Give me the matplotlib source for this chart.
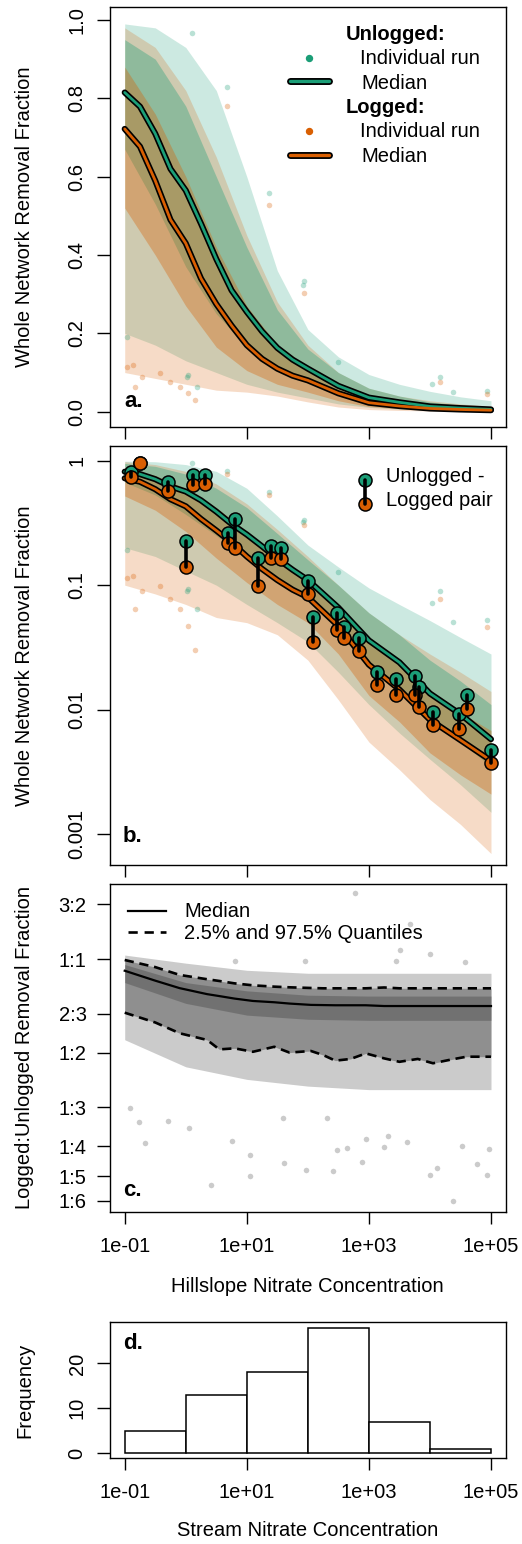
import matplotlib
matplotlib.use('Agg')
import matplotlib.pyplot as plt
import numpy as np
from matplotlib.ticker import NullLocator

plt.rcParams['font.family'] = ['Liberation Sans', 'DejaVu Sans']
plt.rcParams['font.size'] = 14.5

GREEN = '#1B9E77'
ORANGE = '#D95F02'
GREY = '#555555'

# median removal fraction vs hillslope nitrate (x given as log10 of concentration)
med_log_conc = [-1, -0.75, -0.5, -0.25, 0, 0.25, 0.5, 0.75, 1, 1.25, 1.5, 1.75, 2, 2.5, 3, 3.5, 4, 4.5, 5]
unlogged_median = [0.815, 0.779, 0.71, 0.62, 0.565, 0.48, 0.39, 0.31, 0.255, 0.205, 0.163, 0.133,
                   0.11, 0.066, 0.036, 0.024, 0.0135, 0.0092, 0.0058]
logged_median = [0.722, 0.677, 0.59, 0.49, 0.43, 0.34, 0.275, 0.22, 0.17, 0.135, 0.11, 0.092,
                 0.08, 0.047, 0.023, 0.0145, 0.0083, 0.0057, 0.0039]

# spread of the individual runs (outer envelope and inner half)
band_log_conc = [-1, -0.5, 0, 0.5, 1, 1.5, 2, 2.5, 3, 3.5, 4, 4.5, 5]
unlogged_hi = [0.99, 0.98, 0.93, 0.82, 0.6, 0.36, 0.21, 0.14, 0.095, 0.07, 0.052, 0.038, 0.028]
unlogged_q75 = [0.95, 0.9, 0.78, 0.6, 0.42, 0.26, 0.16, 0.1, 0.06, 0.04, 0.025, 0.017, 0.011]
unlogged_q25 = [0.67, 0.53, 0.37, 0.25, 0.165, 0.11, 0.075, 0.045, 0.024, 0.015, 0.0085, 0.0055, 0.0035]
unlogged_lo = [0.2, 0.17, 0.13, 0.1, 0.07, 0.05, 0.035, 0.02, 0.011, 0.0065, 0.004, 0.0025, 0.0015]
logged_hi = [0.98, 0.93, 0.82, 0.65, 0.45, 0.28, 0.17, 0.1, 0.06, 0.04, 0.028, 0.02, 0.014]
logged_q75 = [0.88, 0.76, 0.6, 0.42, 0.27, 0.17, 0.115, 0.07, 0.036, 0.023, 0.014, 0.0095, 0.0068]
logged_q25 = [0.52, 0.4, 0.27, 0.165, 0.105, 0.07, 0.05, 0.028, 0.013, 0.008, 0.0045, 0.003, 0.0021]
logged_lo = [0.1, 0.085, 0.07, 0.055, 0.05, 0.04, 0.025, 0.012, 0.0055, 0.0033, 0.0019, 0.0012, 0.0007]

# a few stray runs
unlogged_out_log_conc = [0.1, 0.67, 1.37, 1.94, 2.5, 4.16, 4.93, -0.97, 0.02, 0.18, 0.04,
                         1.92, 4.03, 4.38]
unlogged_out = [0.966, 0.83, 0.559, 0.334, 0.128, 0.089, 0.053, 0.19, 0.089, 0.064, 0.094,
                0.324, 0.0716, 0.051]
logged_out_log_conc = [0.67, 1.37, 1.94, -0.97, -0.86, -0.26, 0.15, 0.04, 4.16, -0.83, -0.72,
                       -0.42, -0.09, 4.93]
logged_out = [0.78, 0.527, 0.302, 0.115, 0.119, 0.077, 0.03, 0.047, 0.077, 0.064, 0.089,
              0.098, 0.064, 0.046]

# unlogged / logged pairs (panel b)
pair_log_conc = [-0.90, -0.75, -0.29, 0.004, 0.12, 0.315, 0.70, 0.807, 1.19, 1.40, 1.56, 2.0,
                 2.08, 2.47, 2.6, 2.83, 3.13, 3.44, 3.755, 3.82, 4.05, 4.48, 4.61, 5.0]
pair_unlogged = [0.816, 0.955, 0.678, 0.228, 0.768, 0.768, 0.264, 0.338, 0.164, 0.206, 0.20, 0.109,
                 0.0558, 0.060, 0.0465, 0.0374, 0.0202, 0.0175, 0.0187, 0.0153, 0.00964, 0.00924,
                 0.0131, 0.00475]
pair_logged = [0.736, 0.963, 0.574, 0.141, 0.638, 0.65, 0.217, 0.198, 0.099, 0.164, 0.162, 0.085,
               0.0352, 0.0437, 0.0374, 0.0298, 0.0158, 0.0131, 0.0131, 0.0106, 0.00753, 0.00696,
               0.0101, 0.00375]

# panel c: logged:unlogged ratio
c_log_conc = [-1, -0.5, -0.1, 0.35, 0.55, 0.8, 1.1, 1.45, 1.7, 2.05, 2.25, 2.45, 2.7, 2.95,
              3.25, 3.5, 3.8, 4.05, 4.35, 4.6, 5.0]
c_median = [0.917, 0.852, 0.806, 0.771, 0.760, 0.746, 0.733, 0.726, 0.719, 0.712, 0.711, 0.710,
            0.710, 0.710, 0.706, 0.706, 0.706, 0.706, 0.706, 0.706, 0.706]
c_q975 = [0.993, 0.942, 0.889, 0.861, 0.850, 0.835, 0.823, 0.815, 0.811, 0.807, 0.805, 0.805,
          0.805, 0.805, 0.81, 0.805, 0.805, 0.805, 0.805, 0.805, 0.805]
c_q025 = [0.672, 0.625, 0.577, 0.549, 0.512, 0.516, 0.503, 0.522, 0.500, 0.506, 0.491, 0.471,
          0.477, 0.497, 0.479, 0.467, 0.477, 0.462, 0.475, 0.485, 0.485]
c_band_log_conc = [-1, 0, 1, 2, 3, 4, 5]
c_cloud_hi = [1.03, 0.97, 0.92, 0.9, 0.9, 0.9, 0.9]
c_q75 = [0.96, 0.84, 0.79, 0.765, 0.76, 0.76, 0.76]
c_q25 = [0.84, 0.72, 0.66, 0.64, 0.635, 0.635, 0.635]
c_cloud_lo = [0.55, 0.45, 0.41, 0.39, 0.38, 0.38, 0.38]
c_out_log_conc = [-0.91, -0.76, -0.67, 0.41, -0.29, 0.05, 0.75, 1.06, 1.05, 1.61, 1.97, 2.41,
                  2.88, 2.96, 2.48, 4.0, 4.12, 4.37, 4.93, 4.77, 4.97, 4.52, 3.63, 3.32, 1.59,
                  2.31, 2.64, 3.24, 2.77, 3.68, 3.51, 4.0, 3.44, 1.95, 0.81, 4.57]
c_out_ratio = [0.331, 0.298, 0.255, 0.187, 0.301, 0.287, 0.26, 0.2, 0.234, 0.221, 0.21, 0.208,
               0.223, 0.263, 0.243, 0.202, 0.212, 0.167, 0.202, 0.219, 0.244, 0.25, 0.258, 0.27,
               0.307, 0.307, 0.246, 0.249, 1.63, 1.30, 1.07, 1.04, 0.985, 0.985, 0.985, 0.98]
c_tick_values = [3 / 2, 1, 2 / 3, 1 / 2, 1 / 3, 1 / 4, 1 / 5, 1 / 6]
c_tick_labels = ['3:2', '1:1', '2:3', '1:2', '1:3', '1:4', '1:5', '1:6']

# panel d: stream nitrate histogram
d_bin_log_edges = [-1, 0, 1, 2, 3, 4, 5]
d_counts = [5, 13, 18, 28, 7, 1]

x_tick_values = [0.1, 10, 1000, 1e5]
x_tick_labels = ['1e-01', '1e+01', '1e+03', '1e+05']

W, H = 522, 1544
fig = plt.figure(figsize=(W / 100, H / 100), dpi=100)


def fx(px):
    return px / W


def fy(py):
    return 1 - py / H


def px_axes(left, top, right, bottom):
    return fig.add_axes([left / W, 1 - bottom / H, (right - left) / W, (bottom - top) / H])


def to_conc(log_vals):
    return 10.0 ** np.asarray(log_vals, dtype=float)


def style_axes(ax, xlabels):
    ax.set_xscale('log')
    ax.set_xlim(10.0 ** -1.241, 10.0 ** 5.241)
    ax.set_xticks(x_tick_values)
    ax.set_xticklabels(x_tick_labels if xlabels else [])
    ax.xaxis.set_minor_locator(NullLocator())
    ax.tick_params(axis='x', length=8.6, width=1, pad=9.5, labelsize=14.5)
    ax.tick_params(axis='y', length=9.4, width=1, pad=7.5, labelsize=14.5)
    for s in ax.spines.values():
        s.set_linewidth(1.0)


def draw_median(ax, x, y, col):
    ax.plot(x, y, color='black', lw=4.4, solid_capstyle='round', zorder=4)
    ax.plot(x, y, color=col, lw=2.0, solid_capstyle='round', zorder=5)


def draw_cloud(ax):
    for lo, hi, col, a in [(unlogged_lo, unlogged_hi, GREEN, 0.22), (logged_lo, logged_hi, ORANGE, 0.22),
                           (unlogged_q25, unlogged_q75, GREEN, 0.35), (logged_q25, logged_q75, ORANGE, 0.35)]:
        ax.fill_between(band_conc, lo, hi, color=col, alpha=a, lw=0)
    ax.scatter(to_conc(unlogged_out_log_conc), unlogged_out, s=16, color=GREEN, alpha=0.3, lw=0)
    ax.scatter(to_conc(logged_out_log_conc), logged_out, s=16, color=ORANGE, alpha=0.3, lw=0)
    draw_median(ax, med_conc, unlogged_median, GREEN)
    draw_median(ax, med_conc, logged_median, ORANGE)


med_conc = to_conc(med_log_conc)
band_conc = to_conc(band_log_conc)

# ---------------- panel a
ax_a = px_axes(110, 6.7, 505.7, 427)
draw_cloud(ax_a)
ax_a.set_ylim(-0.039, 1.034)
ax_a.set_yticks([0, 0.2, 0.4, 0.6, 0.8, 1.0])
ax_a.set_yticklabels(['0.0', '0.2', '0.4', '0.6', '0.8', '1.0'], rotation=90, va='center')
style_axes(ax_a, False)
ax_a.text(0.036, 0.06, 'a.', transform=ax_a.transAxes, fontsize=16, fontweight='bold', va='center')

# legend a
fig.text(fx(345.7), fy(34), 'Unlogged:', fontweight='bold', va='center')
ax_a.plot([fx(309.3)], [fy(58.3)], 'o', ms=4.3, color=GREEN, transform=fig.transFigure)
fig.text(fx(360), fy(58.3), 'Individual run', va='center')
ax_a.plot([fx(290), fx(329)], [fy(80.7)] * 2, color='black', lw=5, solid_capstyle='round', transform=fig.transFigure)
ax_a.plot([fx(290), fx(329)], [fy(80.7)] * 2, color=GREEN, lw=2.4, solid_capstyle='round', transform=fig.transFigure)
fig.text(fx(361), fy(83.3), 'Median', va='center')
fig.text(fx(345.7), fy(107.5), 'Logged:', fontweight='bold', va='center')
ax_a.plot([fx(309.3)], [fy(130.5)], 'o', ms=4.3, color=ORANGE, transform=fig.transFigure)
fig.text(fx(360), fy(131.7), 'Individual run', va='center')
ax_a.plot([fx(290), fx(329)], [fy(154.7)] * 2, color='black', lw=5, solid_capstyle='round', transform=fig.transFigure)
ax_a.plot([fx(290), fx(329)], [fy(154.7)] * 2, color=ORANGE, lw=2.4, solid_capstyle='round', transform=fig.transFigure)
fig.text(fx(361), fy(156.7), 'Median', va='center')

# ---------------- panel b
ax_b = px_axes(110, 445.7, 505.7, 865)
ax_b.set_yscale('log')
draw_cloud(ax_b)
pair_conc = to_conc(pair_log_conc)
ax_b.plot(pair_conc, pair_unlogged, 'o', ms=9.4, mfc=GREEN, mec='black', mew=1.1, ls='none', zorder=6)
ax_b.plot(pair_conc, pair_logged, 'o', ms=9.4, mfc=ORANGE, mec='black', mew=1.1, ls='none', zorder=7)
ax_b.vlines(pair_conc, pair_logged, pair_unlogged, color='black', lw=2.6, zorder=8, capstyle='round')
ax_b.set_ylim(10.0 ** -3.247, 10.0 ** 0.12)
ax_b.set_yticks([1, 0.1, 0.01, 0.001])
ax_b.set_yticklabels(['1', '0.1', '0.01', '0.001'], rotation=90, va='center')
ax_b.yaxis.set_minor_locator(NullLocator())
style_axes(ax_b, False)
ax_b.text(0.033, 0.069, 'b.', transform=ax_b.transAxes, fontsize=16, fontweight='bold', va='center')

# legend b
ax_b.plot([fx(365)], [fy(480)], 'o', ms=9.4, mfc=GREEN, mec='black', mew=1.1, transform=fig.transFigure, zorder=9)
ax_b.plot([fx(365)], [fy(504)], 'o', ms=9.4, mfc=ORANGE, mec='black', mew=1.1, transform=fig.transFigure, zorder=9)
ax_b.plot([fx(365), fx(365)], [fy(480), fy(504)], color='black', lw=2.6, solid_capstyle='round',
          transform=fig.transFigure, zorder=10)
fig.text(fx(385.7), fy(476.7), 'Unlogged -', va='center')
fig.text(fx(385.7), fy(501), 'Logged pair', va='center')

# ---------------- panel c
ax_c = px_axes(110, 884, 505.7, 1211.7)
ax_c.set_yscale('log')
c_band_conc = to_conc(c_band_log_conc)
c_conc = to_conc(c_log_conc)
ax_c.fill_between(c_band_conc, c_cloud_lo, c_cloud_hi, color=GREY, alpha=0.3, lw=0)
ax_c.fill_between(c_conc, c_q025, c_q975, color=GREY, alpha=0.5, lw=0)
ax_c.fill_between(c_band_conc, c_q25, c_q75, color=GREY, alpha=0.5, lw=0)
ax_c.scatter(to_conc(c_out_log_conc), c_out_ratio, s=16, color=GREY, alpha=0.3, lw=0)
ax_c.plot(c_conc, c_median, color='black', lw=1.6)
ax_c.plot(c_conc, c_q975, color='black', lw=1.9, ls=(0, (3.5, 2.2)))
ax_c.plot(c_conc, c_q025, color='black', lw=1.9, ls=(0, (3.5, 2.2)))
ax_c.set_ylim(np.exp(-1.872), np.exp(0.556))
ax_c.set_yticks(c_tick_values)
ax_c.set_yticklabels(c_tick_labels)
ax_c.yaxis.set_minor_locator(NullLocator())
style_axes(ax_c, True)
ax_c.text(0.033, 0.065, 'c.', transform=ax_c.transAxes, fontsize=16, fontweight='bold', va='center')

# legend c
ax_c.plot([fx(128), fx(165.7)], [fy(910.7)] * 2, color='black', lw=1.6, transform=fig.transFigure)
ax_c.plot([fx(128), fx(165.7)], [fy(931.7)] * 2, color='black', lw=1.9, ls=(0, (3.5, 2.6)),
          transform=fig.transFigure)
fig.text(fx(184.3), fy(911.7), 'Median', va='center')
fig.text(fx(184.3), fy(933), '2.5% and 97.5% Quantiles', va='center')

# ---------------- panel d
ax_d = px_axes(110, 1322.3, 505.7, 1457.7)
edges = to_conc(d_bin_log_edges)
ax_d.bar(edges[:-1], d_counts, width=np.diff(edges), align='edge', color='white', edgecolor='black', lw=1.1)
ax_d.set_ylim(-1.05, 29.2)
ax_d.set_yticks([0, 10, 20])
ax_d.set_yticklabels(['0', '10', '20'], rotation=90, va='center')
style_axes(ax_d, True)
ax_d.text(0.033, 0.84, 'd.', transform=ax_d.transAxes, fontsize=16, fontweight='bold', va='center')

# axis titles
fig.text(fx(25), fy(216.8), 'Whole Network Removal Fraction', rotation=90, ha='center', va='center')
fig.text(fx(25), fy(655.3), 'Whole Network Removal Fraction', rotation=90, ha='center', va='center')
fig.text(fx(25), fy(1047.9), 'Logged:Unlogged Removal Fraction', rotation=90, ha='center', va='center')
fig.text(fx(25), fy(1390), 'Frequency', rotation=90, ha='center', va='center')
fig.text(fx(307.8), fy(1287), 'Hillslope Nitrate Concentration', ha='center', va='center')
fig.text(fx(307.8), fy(1531), 'Stream Nitrate Concentration', ha='center', va='center')

fig.savefig('out.png', dpi=100)
